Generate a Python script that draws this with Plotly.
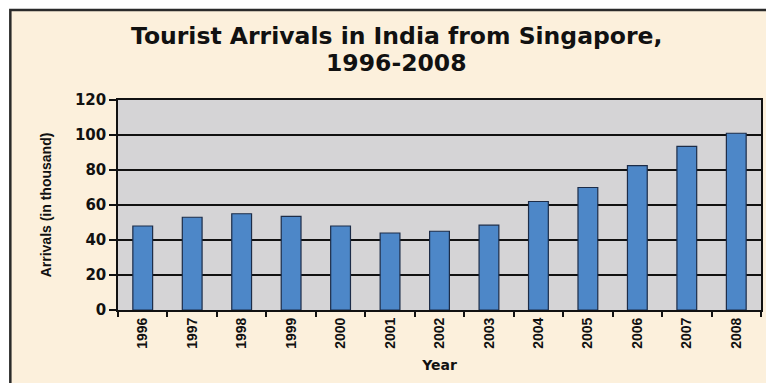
import plotly.graph_objects as go

years = ["1996", "1997", "1998", "1999", "2000", "2001", "2002",
         "2003", "2004", "2005", "2006", "2007", "2008"]
arrivals = [48, 53, 55, 53.5, 48, 44, 45, 48.5, 62, 70, 82.5, 93.5, 101]
y_ticks = [0, 20, 40, 60, 80, 100, 120]
title_lines = ["Tourist Arrivals in India from Singapore,", "1996-2008"]

W, H = 766, 383
L, R, T, B = 118, 3, 100, 73
pw, ph = W - L - R, H - T - B

def px(x):
    return (x - L) / pw

def py(y):
    return (H - B - y) / ph

title_font = dict(family="DejaVu Sans", size=23.5, color="#111111", weight="bold")

fig = go.Figure()
fig.add_trace(go.Bar(
    x=years, y=arrivals,
    marker=dict(color="#4d87c8", line=dict(color="#1c2c48", width=1.2)),
))

fig.update_layout(
    width=W, height=H,
    margin=dict(l=L, r=R, t=T, b=B),
    paper_bgcolor="#fcf0dc",
    plot_bgcolor="#d5d4d6",
    bargap=0.6,
    showlegend=False,
    annotations=[
        dict(text=title_lines[0], font=title_font,
             xref="paper", yref="paper", x=px(397), y=py(36),
             xanchor="center", yanchor="middle", showarrow=False),
        dict(text=title_lines[1], font=title_font,
             xref="paper", yref="paper", x=px(397), y=py(63),
             xanchor="center", yanchor="middle", showarrow=False),
    ],
    xaxis=dict(
        type="category",
        tickangle=-90,
        tickfont=dict(family="Liberation Sans", size=14, color="#111111", weight="bold"),
        ticks="outside", ticklen=5, tickcolor="#111111", tickwidth=1.5,
        tickson="boundaries",
        showline=True, linecolor="#111111", linewidth=2, mirror=True,
        showgrid=False,
        title=dict(text="Year", standoff=12,
                   font=dict(family="DejaVu Sans", size=14, color="#111111", weight="bold")),
    ),
    yaxis=dict(
        range=[0, 120],
        tickvals=y_ticks,
        tickfont=dict(family="DejaVu Sans", size=15, color="#111111", weight="bold"),
        ticks="outside", ticklen=7, tickcolor="#111111", tickwidth=1.5,
        showline=True, linecolor="#111111", linewidth=1.5, mirror=True,
        showgrid=True, gridcolor="#111111", gridwidth=1.5,
        zeroline=False,
        title=dict(text="Arrivals (in thousand)", standoff=20,
                   font=dict(family="Liberation Sans", size=14, color="#111111", weight="bold")),
    ),
    shapes=[
        dict(type="rect", xref="paper", yref="paper",
             x0=px(-5), x1=px(9), y0=py(H + 5), y1=py(-5),
             fillcolor="white", line=dict(width=0)),
        dict(type="rect", xref="paper", yref="paper",
             x0=px(-5), x1=px(W + 5), y0=py(9), y1=py(-5),
             fillcolor="white", line=dict(width=0)),
        dict(type="rect", xref="paper", yref="paper",
             x0=px(10), x1=px(W + 10), y0=py(H + 10), y1=py(10),
             fillcolor="rgba(0,0,0,0)", line=dict(color="#2a2a2a", width=2.5)),
    ],
)

fig.write_html("out.html")
